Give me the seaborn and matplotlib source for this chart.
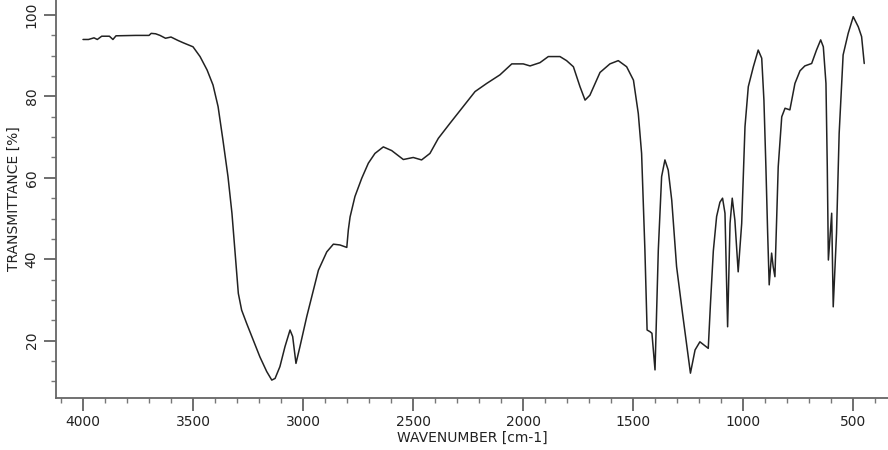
import matplotlib
matplotlib.use("Agg")
import matplotlib.pyplot as plt
import seaborn as sns
import pandas as pd
from matplotlib.ticker import MultipleLocator

# IR spectrum (wavenumber in cm-1, transmittance in %)
wavenumber = [
    4000, 3975, 3950, 3935, 3915, 3880, 3864, 3850, 3760, 3700, 3690, 3670,
    3650, 3625, 3600, 3570, 3545, 3500, 3468, 3436, 3409, 3386, 3364, 3341,
    3323, 3309, 3294, 3279, 3256, 3226, 3196, 3165, 3142, 3127, 3105, 3082,
    3059, 3047, 3032, 3014, 2983, 2953, 2930, 2892, 2862, 2832, 2801, 2794,
    2786, 2764, 2733, 2703, 2673, 2635, 2597, 2544, 2499, 2461, 2423, 2385,
    2332, 2272, 2218, 2165, 2105, 2051, 1999, 1968, 1923, 1885, 1832, 1802,
    1771, 1741, 1718, 1696, 1650, 1605, 1567, 1529, 1498, 1476, 1461, 1446,
    1436, 1423, 1414, 1400, 1385, 1370, 1355, 1340, 1324, 1302, 1275, 1257,
    1239, 1218, 1196, 1158, 1148, 1135, 1120, 1105, 1093, 1082, 1070, 1059,
    1049, 1037, 1022, 1006, 991, 976, 953, 931, 915, 905, 896, 888,
    881, 870, 863, 855, 840, 824, 809, 787, 764, 741, 719, 688,
    666, 647, 635, 623, 617, 612, 597, 590, 575, 563, 545, 522,
    499, 476, 461, 449,
]
transmittance = [
    94.0, 94.0, 94.4, 94.0, 94.8, 94.8, 94.0, 94.9, 95.0, 95.0, 95.5, 95.4,
    95.0, 94.3, 94.6, 93.8, 93.2, 92.2, 89.8, 86.5, 82.8, 77.5, 69.3, 60.3,
    51.3, 41.8, 31.6, 27.5, 24.2, 20.1, 16.0, 12.4, 10.3, 10.7, 13.6, 18.5,
    22.6, 21.0, 14.4, 18.5, 25.9, 32.4, 37.3, 41.8, 43.7, 43.5, 42.9, 47.2,
    50.4, 55.4, 59.9, 63.6, 66.0, 67.6, 66.7, 64.5, 65.0, 64.4, 66.0, 69.7,
    73.4, 77.5, 81.2, 83.2, 85.3, 88.0, 88.0, 87.5, 88.3, 89.8, 89.8, 88.8,
    87.3, 82.4, 79.1, 80.3, 85.9, 88.0, 88.8, 87.3, 84.0, 75.8, 66.0, 42.3,
    22.6, 22.2, 21.8, 12.8, 42.3, 60.3, 64.4, 61.9, 54.5, 38.2, 26.7, 19.3,
    12.0, 17.7, 19.7, 18.1, 29.0, 42.0, 50.5, 54.0, 55.0, 51.3, 23.4, 48.8,
    55.0, 49.6, 36.9, 48.8, 72.6, 82.4, 87.3, 91.4, 89.4, 79.1, 62.7, 46.4,
    33.7, 41.5, 38.2, 35.7, 62.7, 75.0, 77.1, 76.7, 83.2, 86.3, 87.5, 88.1,
    91.4, 93.9, 92.2, 83.2, 62.7, 39.8, 51.3, 28.3, 46.4, 70.9, 90.2, 95.5,
    99.6, 97.1, 94.7, 88.1,
]

df = pd.DataFrame({"wavenumber": wavenumber, "transmittance": transmittance})

sns.set_style("ticks")
plt.rcParams["font.family"] = ["DejaVu Sans"]

fig = plt.figure(figsize=(8.88, 4.5), dpi=100)
ax = fig.add_axes([0.063, 0.1156, 0.937, 0.8844])

sns.lineplot(data=df, x="wavenumber", y="transmittance", sort=False,
             color="#222222", linewidth=1.1, ax=ax)

ax.set_xlim(4123, 341)
ax.set_ylim(5.9, 103.7)

ax.xaxis.set_major_locator(MultipleLocator(500))
ax.xaxis.set_minor_locator(MultipleLocator(100))
ax.yaxis.set_major_locator(MultipleLocator(20))
ax.yaxis.set_minor_locator(MultipleLocator(5))

ax.tick_params(which="major", length=9, width=1.2, color="#555555",
               labelsize=10, labelcolor="#222222", direction="out")
ax.tick_params(which="minor", length=3.5, width=1.0, color="#777777",
               direction="out")
for lbl in ax.get_yticklabels():
    lbl.set_rotation(90)
    lbl.set_va("center")

sns.despine(ax=ax)
for side in ["left", "bottom"]:
    ax.spines[side].set_color("#666666")
    ax.spines[side].set_linewidth(1.3)

ax.set_xlabel("WAVENUMBER [cm-1]", fontsize=10, color="#222222", labelpad=1)
ax.set_ylabel("TRANSMITTANCE [%]", fontsize=10, color="#222222", labelpad=3)

fig.savefig("out.png", dpi=100)
